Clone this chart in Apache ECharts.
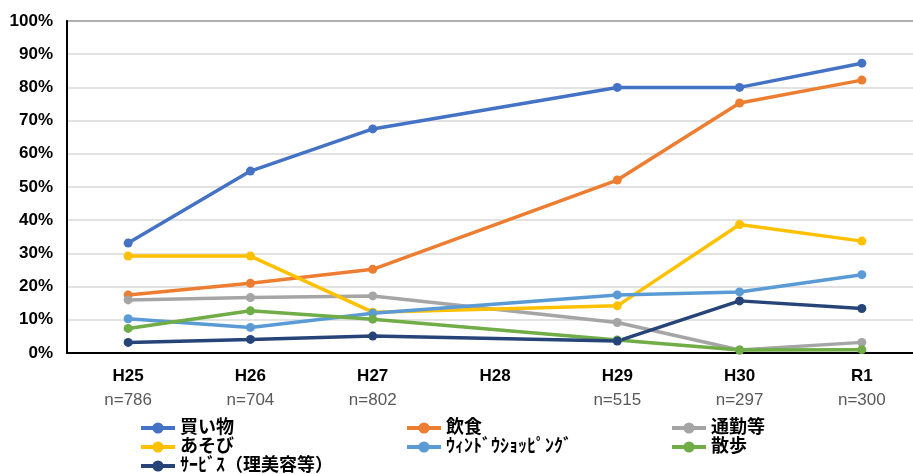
<!DOCTYPE html>
<html>
<head>
<meta charset="utf-8">
<script src="https://cdn.jsdelivr.net/npm/echarts@6/dist/echarts.min.js"></script>
<style>html,body{margin:0;padding:0;background:#fff;overflow:hidden;width:913px;height:474px;}#c{width:923px;height:474px;}</style>
</head>
<body>
<div id="c"></div>
<script>
const categories = ['H25', 'H26', 'H27', 'H28', 'H29', 'H30', 'R1'];
const sampleSizes = ['n=786', 'n=704', 'n=802', '', 'n=515', 'n=297', 'n=300'];
const yTicks = [0, 10, 20, 30, 40, 50, 60, 70, 80, 90, 100];

const seriesNames = ['買い物', '飲食', '通勤等', 'あそび', 'ｳｨﾝﾄﾞｳｼｮｯﾋﾟﾝｸﾞ', '散歩', 'ｻｰﾋﾞｽ（理美容等）'];
const shopping = [33.1, 54.8, 67.5, null, 80.0, 80.0, 87.3];
const dining   = [17.5, 21.0, 25.2, null, 52.1, 75.3, 82.2];
const commute  = [16.0, 16.7, 17.2, null, 9.2, 0.9, 3.2];
const play     = [29.2, 29.2, 12.3, null, 14.2, 38.7, 33.7];
const window_  = [10.3, 7.7, 12.0, null, 17.5, 18.4, 23.6];
const walk     = [7.4, 12.7, 10.2, null, 3.9, 0.9, 1.0];
const service  = [3.2, 4.1, 5.1, null, 3.6, 15.7, 13.4];

const seriesValues = [shopping, dining, commute, play, window_, walk, service];
const colors = ['#4472C4', '#ED7D31', '#A5A5A5', '#FFC000', '#5B9BD5', '#70AD47', '#264478'];

const FONT = '"Liberation Sans", "Noto Sans CJK JP", sans-serif';
const chart = echarts.init(document.getElementById('c'), null, {renderer: 'canvas'});

function legendCol(names, left) {
  return {
    orient: 'vertical', left: left, top: 419, height: 80, itemWidth: 34, itemHeight: 14, itemGap: 1,
    padding: 0, data: names,
    lineStyle: {width: 4},
    textStyle: {fontFamily: FONT, fontSize: 18, fontWeight: 'bold', color: '#000', lineHeight: 18}
  };
}

chart.setOption({
  animation: false,
  backgroundColor: '#fff',
  color: colors,
  grid: {left: 67, top: 21, right: 0, bottom: 121, show: true, borderColor: '#000', borderWidth: 1.5, containLabel: false},
  legend: [
    legendCol([seriesNames[0], seriesNames[3], seriesNames[6]], 139),
    legendCol([seriesNames[1], seriesNames[4]], 405),
    legendCol([seriesNames[2], seriesNames[5]], 670)
  ],
  xAxis: {
    type: 'category', data: categories, boundaryGap: true,
    axisLine: {lineStyle: {color: '#000', width: 2}},
    axisTick: {show: false},
    axisLabel: {
      interval: 0, margin: 11, verticalAlign: 'top',
      formatter: function (v) {
        const n = sampleSizes[categories.indexOf(v)];
        return n ? '{a|' + v + '}\n{b|' + n + '}' : '{a|' + v + '}';
      },
      rich: {
        a: {fontFamily: FONT, fontSize: 17, fontWeight: 'bold', color: '#000', lineHeight: 24},
        b: {fontFamily: FONT, fontSize: 17, color: '#595959', lineHeight: 24}
      }
    }
  },
  yAxis: {
    type: 'value', min: yTicks[0], max: yTicks[yTicks.length - 1], interval: 10,
    axisLine: {show: true, lineStyle: {color: '#000', width: 2}},
    axisTick: {show: false},
    splitLine: {lineStyle: {color: '#d9d9d9', width: 1.5}},
    axisLabel: {formatter: '{value}%', fontFamily: FONT, fontSize: 17, fontWeight: 'bold', color: '#000', margin: 14}
  },
  series: seriesNames.map(function (name, i) {
    return {
      name: name, type: 'line', data: seriesValues[i], connectNulls: true,
      symbol: 'circle', symbolSize: 9,
      lineStyle: {width: 3.5, color: colors[i]},
      itemStyle: {color: colors[i]}
    };
  })
});
</script>
</body>
</html>
